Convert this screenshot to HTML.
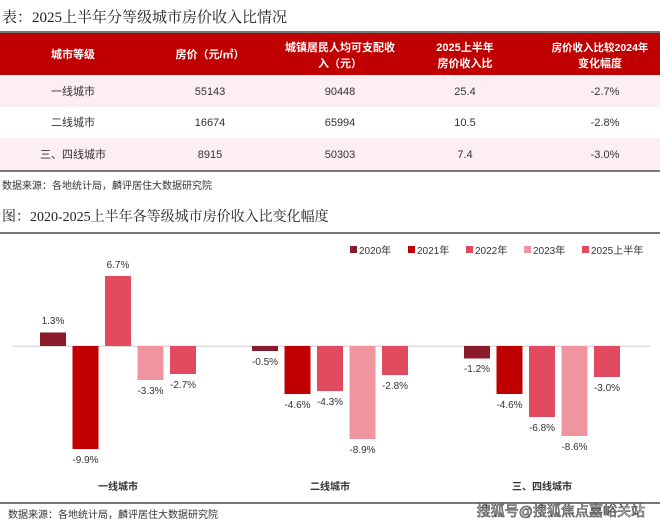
<!DOCTYPE html>
<html><head><meta charset="utf-8"><style>
body{margin:0;width:660px;height:524px;background:#fff;overflow:hidden;font-family:"Liberation Sans","Noto Sans CJK SC",sans-serif;position:relative}
.t{position:absolute;white-space:nowrap}
.ser{font-family:"Liberation Serif","Noto Serif CJK SC",serif}
</style></head><body>
<div class="t ser" style="left:2px;top:6px;font-size:15px;color:#222">表：2025上半年分等级城市房价收入比情况</div>
<div style="position:absolute;left:0;top:31px;width:660px;height:2px;background:#777"></div>
<div style="position:absolute;left:0;top:33px;width:660px;height:42px;background:#c00000"></div>
<div style="position:absolute;left:0;top:75px;width:660px;height:32px;background:#fdeff1"></div>
<div style="position:absolute;left:0;top:138px;width:660px;height:32px;background:#fdeff1"></div>
<div style="position:absolute;left:0;top:170px;width:660px;height:2px;background:#777"></div>
<svg width="660" height="524" style="position:absolute;left:0;top:0" font-family="Liberation Sans,Noto Sans CJK SC,sans-serif">
<g fill="#fff" font-size="11" font-weight="bold" text-anchor="middle">
<text x="73" y="58">城市等级</text><text x="210" y="58">房价（元/㎡）</text>
<text x="340" y="51">城镇居民人均可支配收</text><text x="340" y="67">入（元）</text>
<text x="465" y="51">2025上半年</text><text x="465" y="67">房价收入比</text>
<text x="600" y="51" font-size="10.5">房价收入比较2024年</text><text x="600" y="67">变化幅度</text></g>
<g fill="#333" font-size="11" text-anchor="middle">
<text x="73" y="95">一线城市</text><text x="210" y="95">55143</text><text x="340" y="95">90448</text><text x="465" y="95">25.4</text><text x="605" y="95">-2.7%</text>
<text x="73" y="126">二线城市</text><text x="210" y="126">16674</text><text x="340" y="126">65994</text><text x="465" y="126">10.5</text><text x="605" y="126">-2.8%</text>
<text x="73" y="158">三、四线城市</text><text x="210" y="158">8915</text><text x="340" y="158">50303</text><text x="465" y="158">7.4</text><text x="605" y="158">-3.0%</text></g>
<text x="2" y="189" font-size="10" fill="#333">数据来源：各地统计局，麟评居住大数据研究院</text>
<text x="2" y="221" font-size="14" fill="#222" font-family="Liberation Serif,Noto Serif CJK SC,serif">图：2020-2025上半年各等级城市房价收入比变化幅度</text>
<rect x="0" y="232" width="660" height="2" fill="#777"/>
<rect x="0" y="502" width="660" height="2" fill="#777"/>
<g font-size="10" fill="#333">
<rect x="350" y="246" width="7" height="7" fill="#8b1a2b"/><text x="359" y="254">2020年</text>
<rect x="408" y="246" width="7" height="7" fill="#c00000"/><text x="417" y="254">2021年</text>
<rect x="466" y="246" width="7" height="7" fill="#e24b5f"/><text x="475" y="254">2022年</text>
<rect x="524" y="246" width="7" height="7" fill="#f0959f"/><text x="533" y="254">2023年</text>
<rect x="582" y="246" width="7" height="7" fill="#e24b5f"/><text x="591" y="254">2025上半年</text></g>
<rect x="12" y="345.5" width="638" height="1.5" fill="#ddd"/>
<g>
<rect x="40" y="332.5" width="26" height="13.5" fill="#8b1a2b"/>
<rect x="72.5" y="346" width="26" height="103" fill="#c00000"/>
<rect x="105" y="276" width="26" height="70" fill="#e24b5f"/>
<rect x="137.5" y="346" width="26" height="34" fill="#f0959f"/>
<rect x="170" y="346" width="26" height="28" fill="#e24b5f"/>
<rect x="252" y="346" width="26" height="5" fill="#8b1a2b"/>
<rect x="284.5" y="346" width="26" height="48" fill="#c00000"/>
<rect x="317" y="346" width="26" height="45" fill="#e24b5f"/>
<rect x="349.5" y="346" width="26" height="93" fill="#f0959f"/>
<rect x="382" y="346" width="26" height="29" fill="#e24b5f"/>
<rect x="464" y="346" width="26" height="12.5" fill="#8b1a2b"/>
<rect x="496.5" y="346" width="26" height="48" fill="#c00000"/>
<rect x="529" y="346" width="26" height="71" fill="#e24b5f"/>
<rect x="561.5" y="346" width="26" height="90" fill="#f0959f"/>
<rect x="594" y="346" width="26" height="31" fill="#e24b5f"/>
</g>
<g font-size="10" fill="#333" text-anchor="middle">
<text x="53" y="324">1.3%</text><text x="85.5" y="463">-9.9%</text><text x="118" y="268">6.7%</text><text x="150.5" y="394">-3.3%</text><text x="183" y="388">-2.7%</text>
<text x="265" y="365">-0.5%</text><text x="297.5" y="408">-4.6%</text><text x="330" y="405">-4.3%</text><text x="362.5" y="453">-8.9%</text><text x="395" y="389">-2.8%</text>
<text x="477" y="372">-1.2%</text><text x="509.5" y="408">-4.6%</text><text x="542" y="431">-6.8%</text><text x="574.5" y="450">-8.6%</text><text x="607" y="391">-3.0%</text></g>
<g font-size="10" font-weight="bold" fill="#333" text-anchor="middle">
<text x="118" y="490">一线城市</text><text x="330" y="490">二线城市</text><text x="542" y="490">三、四线城市</text></g>
<text x="8" y="518" font-size="10" fill="#333">数据来源：各地统计局，麟评居住大数据研究院</text>
<text x="645" y="516" font-size="14" fill="#fff" stroke="#333" stroke-width="0.6" text-anchor="end">搜狐号@搜狐焦点嘉峪关站</text>
</svg>
</body></html>
